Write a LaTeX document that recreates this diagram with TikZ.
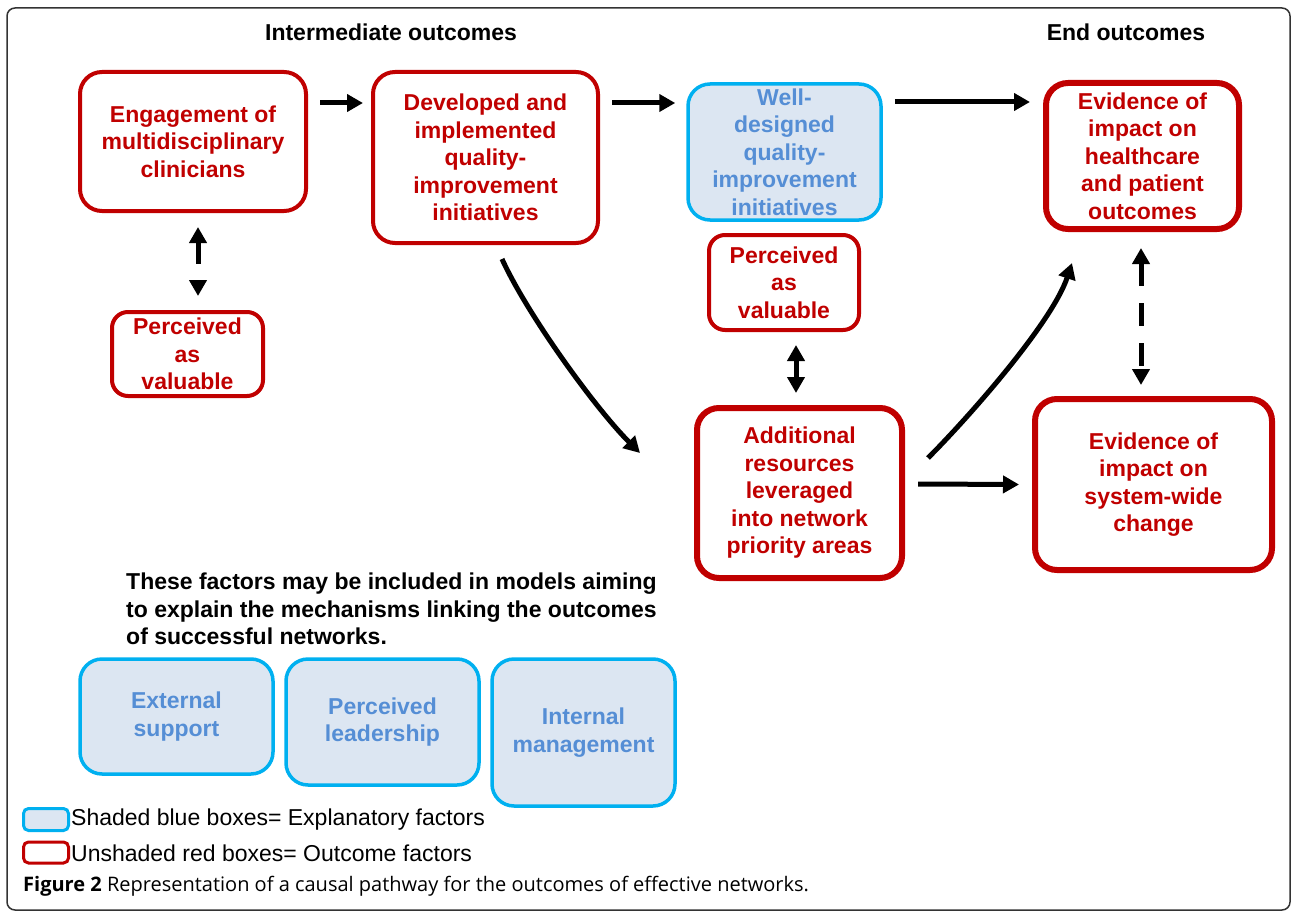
\documentclass[tikz,border=0pt]{standalone}
\usepackage{fontspec}
\setmainfont{Liberation Sans}
\newfontfamily\capfont{Open Sans}
\usetikzlibrary{arrows.meta,calc}
\definecolor{outred}{HTML}{C00000}
\definecolor{expblue}{HTML}{00B0F0}
\definecolor{expfill}{HTML}{DCE6F2}
\definecolor{exptext}{HTML}{558ED5}
\newcommand{\boxfont}{\fontsize{23}{27.5}\selectfont\bfseries}
\begin{document}
\begin{tikzpicture}[x=1pt,y=-1pt,
  boxbase/.style={rounded corners=22pt, align=center, inner sep=0pt, font=\boxfont},
  redbox/.style={boxbase, draw=outred, line width=4pt, text=outred},
  redthick/.style={redbox, line width=6pt},
  smallred/.style={redbox, rounded corners=16pt},
  bluebox/.style={boxbase, draw=expblue, fill=expfill, line width=3.5pt, text=exptext},
  arr/.style={line width=5pt, -{Triangle[length=16pt,width=17pt]}},
  darr/.style={line width=5pt, {Triangle[length=16pt,width=17pt]}-{Triangle[length=16pt,width=17pt]}},
  heading/.style={font=\boxfont, text=black},
  legtext/.style={font=\fontsize{23}{26}\selectfont, anchor=west, inner sep=0pt}
]
\useasboundingbox (0,0) rectangle (1292,912);
% outer frame
\draw[line width=1.5pt, draw=black!80, rounded corners=8pt] (7,8) rectangle (1290,910);

% headings
\node[heading] (h1) at (391,32) {Intermediate outcomes};
\node[heading] (h2) at (1126,32) {End outcomes};

% outcome boxes
\node[redbox, minimum width=226pt, minimum height=139pt] (e1) at (193,141.5) {Engagement of\\multidisciplinary\\clinicians};
\node[redbox, minimum width=225pt, minimum height=171pt] (dev) at (485.5,157.5) {Developed and\\implemented\\quality-\\improvement\\initiatives};
\node[bluebox, minimum width=193pt, minimum height=136pt] (wd) at (784.5,152) {Well-\\designed\\quality-\\improvement\\initiatives};
\node[redthick, minimum width=193pt, minimum height=146pt] (ehc) at (1142.5,156) {Evidence of\\impact on\\healthcare\\and patient\\outcomes};
\node[smallred, minimum width=151pt, minimum height=84pt] (pv1) at (187.5,354) {Perceived\\as\\valuable};
\node[smallred, minimum width=150pt, minimum height=95pt] (pv2) at (784,282.5) {Perceived\\as\\valuable};
\node[redthick, minimum width=205pt, minimum height=170pt] (ar) at (799.5,493) {Additional\\resources\\leveraged\\into network\\priority areas};
\node[redthick, minimum width=237pt, minimum height=171pt] (sw) at (1153.5,484.5) {Evidence of\\impact on\\system-wide\\change};

% explanatory note
\node[font=\boxfont, align=left, anchor=west, inner sep=0pt] (note) at (126,609) {These factors may be included in models aiming\\to explain the mechanisms linking the outcomes\\of successful networks.};

% explanatory boxes
\node[bluebox, minimum width=193pt, minimum height=115pt] (ext) at (176.5,716.5) {External\\support};
\node[bluebox, minimum width=193pt, minimum height=126pt] (lead) at (382.5,722) {Perceived\\leadership};
\node[bluebox, minimum width=183pt, minimum height=147pt] (intm) at (583.5,732.5) {Internal\\management};

% legend
\node[draw=expblue, fill=expfill, line width=3pt, rounded corners=5pt, minimum width=45pt, minimum height=22pt, inner sep=0pt] (lb) at (46,819.5) {};
\node[draw=outred, line width=3pt, rounded corners=5pt, minimum width=45pt, minimum height=21pt, inner sep=0pt] (lr) at (46,852.5) {};
\node[legtext] (lbt) at (71,820) {Shaded blue boxes= Explanatory factors};
\node[legtext] (lrt) at (71,853) {Unshaded red boxes= Outcome factors};

% caption
\node[font=\capfont\fontsize{20}{22}\selectfont, anchor=west, inner sep=0pt] (cap) at (23,886) {\textbf{Figure 2} Representation of a causal pathway for the outcomes of effective networks.};

% connectors
\draw[arr] ([xshift=12pt,yshift=38.5pt]e1.east) -- ([xshift=-8pt,yshift=54.5pt]dev.west);
\draw[arr] ([xshift=12pt,yshift=54.5pt]dev.east) -- ([xshift=-11pt,yshift=49pt]wd.west);
\draw[arr] ([xshift=12pt,yshift=50pt]wd.east) -- ([xshift=-13pt,yshift=54pt]ehc.west);
\draw[darr, dash pattern=on 22pt off 40pt] ([xshift=5pt,yshift=-14pt]e1.south) -- ([xshift=10.5pt,yshift=14pt]pv1.north);
\draw[darr, dash pattern=on 23pt off 17pt] ([xshift=-1.5pt,yshift=-16pt]ehc.south) -- ([xshift=-12.5pt,yshift=11pt]sw.north);
\draw[darr] ([xshift=12pt,yshift=-13pt]pv2.south) -- ([xshift=-3.5pt,yshift=12pt]ar.north);
\draw[arr] ([xshift=16.5pt,yshift=-14pt]dev.south) .. controls +(25,55) and +(-45,-45) .. ([xshift=-54pt,yshift=40pt]ar.west);
\draw[arr] ([xshift=23pt,yshift=35pt]ar.east) .. controls +(40,-40) and +(-20,60) .. ([xshift=-70.5pt,yshift=-31pt]ehc.south);
\draw[arr] ([xshift=13pt,yshift=9pt]ar.east) -- ([xshift=-13pt]sw.west);
\end{tikzpicture}
\end{document}
